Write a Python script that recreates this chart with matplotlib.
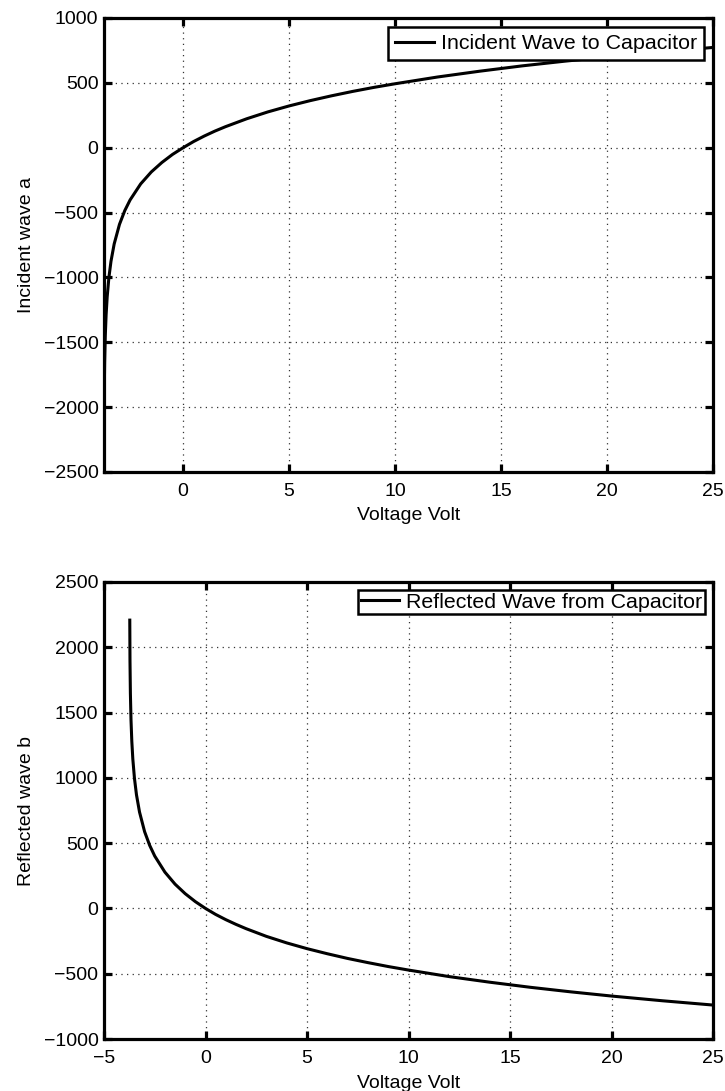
import matplotlib
matplotlib.use("Agg")
import matplotlib.pyplot as plt

# ---- data ----
v_incident = [-3.73, -3.72, -3.70, -3.67, -3.63, -3.58, -3.5, -3.4, -3.25, -3.0,
              -2.75, -2.5, -2.0, -1.5, -1.0, -0.5, 0.0, 0.5, 1.0, 1.5, 2.0,
              3.0, 4.0, 5.0, 6.0, 7.0, 8.0, 9.0, 10.0, 12.0, 14.0, 16.0, 18.0,
              20.0, 22.5, 25.0]
a_incident = [-2250, -1909, -1656, -1452, -1287, -1150, -1002, -875, -742, -591,
              -485, -403, -279, -187, -114, -52, 0, 48, 90, 128, 162,
              223, 276, 322, 363, 400, 434, 465, 493, 545, 590, 631, 667,
              700, 738, 773]

v_reflected = [-3.73, -3.72, -3.70, -3.67, -3.63, -3.58, -3.5, -3.4, -3.25, -3.0,
               -2.75, -2.5, -2.0, -1.5, -1.0, -0.5, 0.0, 0.5, 1.0, 1.5, 2.0,
               3.0, 4.0, 5.0, 6.0, 7.0, 8.0, 9.0, 10.0, 12.0, 14.0, 16.0, 18.0,
               20.0, 22.5, 25.0]
b_reflected = [2208, 1899, 1647, 1444, 1280, 1144, 997, 870, 738, 588,
               483, 401, 278, 186, 113, 52, 0, -46, -86, -122, -155,
               -214, -264, -308, -347, -383, -415, -445, -472, -522, -565, -604, -639,
               -671, -707, -740]

xticks = [0, 5, 10, 15, 20, 25]
xticks_bottom = [-5, 0, 5, 10, 15, 20, 25]
yticks_top = [-2500, -2000, -1500, -1000, -500, 0, 500, 1000]
yticks_bottom = [-1000, -500, 0, 500, 1000, 1500, 2000, 2500]

plt.rcParams['font.family'] = ['Liberation Sans', 'DejaVu Sans']
FS = 14
LFS = 15.4

fig = plt.figure(figsize=(7.25, 10.91), dpi=100)
ax1 = fig.add_axes([104/725, 1-472/1091, 609/725, 454/1091])
ax2 = fig.add_axes([104/725, 1-1039/1091, 609/725, 457/1091])


def style(ax):
    for s in ax.spines.values():
        s.set_linewidth(2.3)
    ax.tick_params(direction='in', length=6, width=2.3, top=True, right=True,
                   labelsize=FS)
    ax.tick_params(axis='x', pad=8)
    ax.tick_params(axis='y', pad=4)
    ax.grid(True, linestyle=(0, (1, 3.5)), color='#333333', linewidth=0.9)
    ax.set_axisbelow(True)


ax1.plot(v_incident, a_incident, color='black', linewidth=2.2,
         label='Incident Wave to Capacitor')
ax1.set_xlim(v_incident[0], 25)
ax1.set_ylim(-2500, 1000)
ax1.set_xticks(xticks)
ax1.set_yticks(yticks_top)
style(ax1)
ax1.set_xlabel('Voltage Volt', fontsize=FS, labelpad=5)
ax1.set_ylabel('Incident wave a', fontsize=FS, labelpad=6)
leg1 = ax1.legend(loc='upper right', fontsize=LFS, fancybox=False, framealpha=1,
                  edgecolor='black', handlelength=1.8, handletextpad=0.33,
                  borderpad=0.33, borderaxespad=0.42)
leg1.get_frame().set_linewidth(1.8)

ax2.plot(v_reflected, b_reflected, color='black', linewidth=2.2,
         label='Reflected Wave from Capacitor')
ax2.set_xlim(-5, 25)
ax2.set_ylim(-1000, 2500)
ax2.set_xticks(xticks_bottom)
ax2.set_yticks(yticks_bottom)
style(ax2)
ax2.set_xlabel('Voltage Volt', fontsize=FS, labelpad=6)
ax2.set_ylabel('Reflected wave b', fontsize=FS, labelpad=6)
leg2 = ax2.legend(loc='upper right', fontsize=LFS, fancybox=False, framealpha=1,
                  edgecolor='black', handlelength=1.8, handletextpad=0.33,
                  borderpad=0.12, borderaxespad=0.38)
leg2.get_frame().set_linewidth(1.8)

fig.savefig('out.png', dpi=100)
